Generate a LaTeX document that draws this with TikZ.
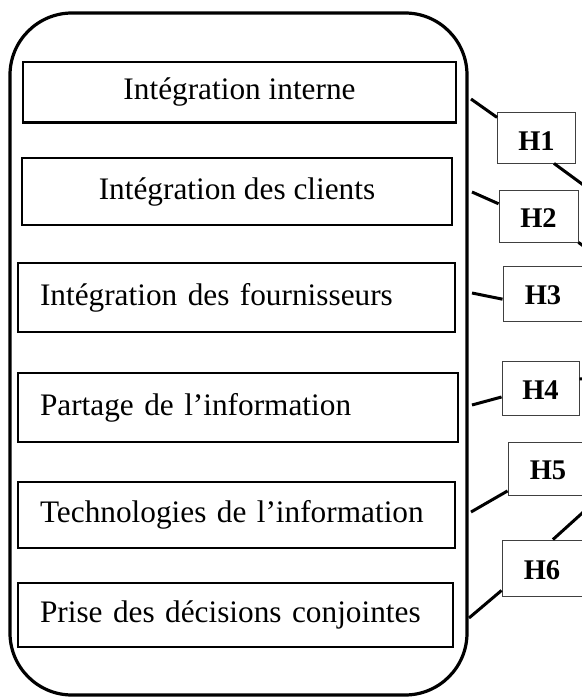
\documentclass[tikz,border=0pt]{standalone}
\usepackage{fontspec}
\setmainfont{Liberation Serif}
\begin{document}
\begin{tikzpicture}[x=1pt,y=-1pt,
  frame/.style={draw=black, line width=3.2pt, rounded corners=62pt, inner sep=0pt},
  varbox/.style={draw=black, line width=2.2pt, inner sep=0pt,
    font=\fontsize{31.3}{36}\selectfont},
  leftbox/.style={varbox, inner xsep=22pt, align=left},
  hbox/.style={draw=black!75, line width=0.9pt, inner sep=0pt,
    text height=22pt, text depth=0pt,
    font=\fontsize{28.5}{32}\selectfont\bfseries},
  link/.style={line width=3pt, black}
]
\useasboundingbox (0,0) rectangle (581,698);
% outer frame
\node[frame, minimum width=457pt, minimum height=682pt] (frame) at (238.5,354) {};
% inner boxes
\node[varbox, minimum width=433pt, minimum height=60.5pt] (b1) at (239.5,92.25) {Intégration interne};
\node[varbox, minimum width=430pt, minimum height=67pt] (b2) at (237,191.5) {Intégration des clients};
\node[leftbox, text width=393pt, minimum height=69pt] (b3) at (236.5,297.5) {Intégration des fournisseurs};
\node[leftbox, text width=396pt, minimum height=69pt] (b4) at (238,407.5) {Partage de l’information};
\node[leftbox, text width=393pt, minimum height=66pt] (b5) at (236.5,515) {Technologies de l’information};
\node[leftbox, text width=391pt, minimum height=64pt] (b6) at (235.5,615) {Prise des décisions conjointes};
% hypothesis boxes
\node[hbox, text height=25pt, minimum width=78pt, minimum height=51pt] (h1) at (536.5,137.5) {H1};
\node[hbox, minimum width=79pt, minimum height=52pt] (h2) at (538.5,216) {H2};
\node[hbox, minimum width=80pt, minimum height=55pt] (h3) at (543,293.5) {H3};
\node[hbox, minimum width=77pt, minimum height=54pt] (h4) at (540.5,388) {H4};
\node[hbox, minimum width=80pt, minimum height=53pt] (h5) at (548,468.5) {H5};
\node[hbox, minimum width=80pt, minimum height=56pt] (h6) at (542,568) {H6};
% connector start points on the frame
\coordinate (p1) at (471,99);
\coordinate (p2) at (472,192);
\coordinate (p3) at (472,293);
\coordinate (p4) at (472,405);
\coordinate (p5) at (471,512);
\coordinate (p6) at (469,618);
% off-canvas ends
\coordinate (q1) at (595,193.5);
\coordinate (q2) at (592,252);
\coordinate (q4) at (592,378);
\coordinate (q6) at (595,501.5);
% connectors
\draw[link] (p1) -- (h1.153);
\draw[link] (p2) -- (h2.163);
\draw[link] (p3) -- (h3.188);
\draw[link] (p4) -- (h4.193);
\draw[link] (p5) -- (h5.209);
\draw[link] (p6) -- (h6.209);
\draw[link] (h1.-56) -- (q1);
\draw[link] (h2.south east) -- (q2);
\draw[link] (h4.13) -- (q4);
\draw[link] (h6.69) -- (q6);
\end{tikzpicture}
\end{document}
